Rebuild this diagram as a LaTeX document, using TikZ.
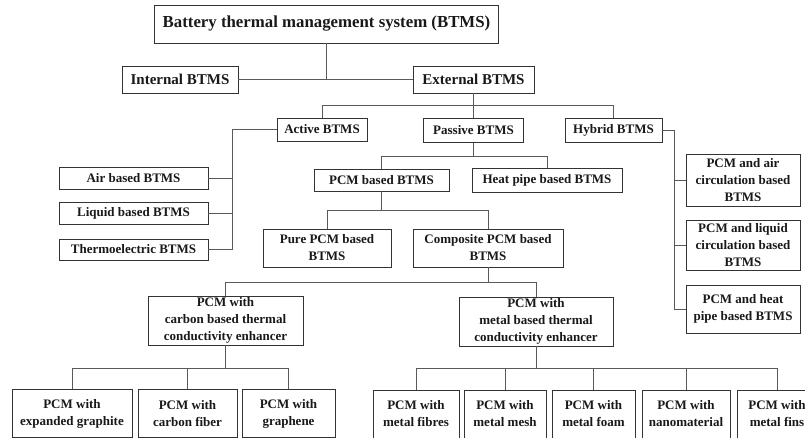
\documentclass[tikz,border=0pt]{standalone}
\usepackage{fontspec}
\setmainfont{Liberation Serif}
\begin{document}
\begin{tikzpicture}[x=1pt,y=-1pt,
  box/.style={draw=black!80, line width=0.9pt, fill=white, inner sep=0pt, align=center, text=black!90},
  ftop/.style={font=\fontsize{16.8}{18}\selectfont\bfseries},
  fsec/.style={font=\fontsize{15}{16}\selectfont\bfseries},
  fnorm/.style={font=\fontsize{13}{17}\selectfont\bfseries},
  link/.style={draw=black!65, line width=0.9pt}]
\useasboundingbox (0,0) rectangle (805,438);
\clip (0,0) rectangle (805,438);
\fill[white] (0,0) rectangle (805,438);
% junction rows / columns
\coordinate (r1) at (0,105);
\coordinate (r2) at (0,156);
\coordinate (r3) at (0,210);
\coordinate (r4) at (0,282);
\coordinate (r5) at (0,368);
\coordinate (cA) at (232,0);
\coordinate (cH) at (674,0);
% nodes
\node[box, ftop, minimum width=344, minimum height=38] (top) at (326.5,24) {Battery thermal management system (BTMS)};
\node[box, fsec, minimum width=116, minimum height=27] (internal) at (180,79.5) {Internal BTMS};
\node[box, fsec, minimum width=121, minimum height=27] (external) at (473.5,79.5) {External BTMS};
\node[box, fnorm, minimum width=90, minimum height=23] (active) at (322,129.5) {Active BTMS};
\node[box, fnorm, minimum width=100, minimum height=24] (passive) at (473.5,130.5) {Passive BTMS};
\node[box, fnorm, minimum width=97, minimum height=24] (hybrid) at (613.5,130) {Hybrid BTMS};
\node[box, fnorm, minimum width=149, minimum height=22] (air) at (133.5,178) {Air based BTMS};
\node[box, fnorm, minimum width=149, minimum height=22] (liquid) at (133.5,213) {Liquid based BTMS};
\node[box, fnorm, minimum width=149, minimum height=21] (thermo) at (133.5,249.5) {Thermoelectric BTMS};
\node[box, fnorm, minimum width=135, minimum height=22] (pcm) at (381.5,180) {PCM based BTMS};
\node[box, fnorm, minimum width=150, minimum height=24] (heatpipe) at (547,180) {Heat pipe based BTMS};
\node[box, fnorm, minimum width=128, minimum height=38] (pure) at (327,248) {Pure PCM based\\BTMS};
\node[box, fnorm, minimum width=150, minimum height=38] (composite) at (488,248) {Composite PCM based\\BTMS};
\node[box, fnorm, minimum width=155, minimum height=49] (carbon) at (225.5,320.5) {PCM with\\carbon based thermal\\conductivity enhancer};
\node[box, fnorm, minimum width=154, minimum height=49] (metal) at (536,321.5) {PCM with\\metal based thermal\\conductivity enhancer};
\node[box, fnorm, minimum width=114, minimum height=52] (pcmair) at (743,180) {PCM and air\\circulation based\\BTMS};
\node[box, fnorm, minimum width=114, minimum height=50] (pcmliquid) at (743,245) {PCM and liquid\\circulation based\\BTMS};
\node[box, fnorm, minimum width=114, minimum height=48] (pcmheat) at (743,309) {PCM and heat\\pipe based BTMS};
\node[box, fnorm, minimum width=120, minimum height=48] (expanded) at (72,413.5) {PCM with\\expanded graphite};
\node[box, fnorm, minimum width=99, minimum height=48] (fiber) at (187.5,413.5) {PCM with\\carbon fiber};
\node[box, fnorm, minimum width=93, minimum height=48] (graphene) at (288.5,413.5) {PCM with\\graphene};
\node[box, fnorm, minimum width=86, minimum height=48] (fibres) at (416,414) {PCM with\\metal fibres};
\node[box, fnorm, minimum width=82, minimum height=48] (mesh) at (505,414) {PCM with\\metal mesh};
\node[box, fnorm, minimum width=83, minimum height=48] (foam) at (593.5,414) {PCM with\\metal foam};
\node[box, fnorm, minimum width=88, minimum height=48] (nano) at (686,414) {PCM with\\nanomaterial};
\node[box, fnorm, minimum width=80, minimum height=48] (fins) at (777,414) {PCM with\\metal fins};
% connectors
\draw[link] (top.south) -- (top.south |- internal.east);
\draw[link] (internal.east) -- (external.west);
\draw[link] (external.south) -- (passive.north);
\draw[link] (active.north) -- (active.north |- r1) -- (hybrid.north |- r1) -- (hybrid.north);
\draw[link] (active.west) -- (active.west -| cA) -- (thermo.east -| cA) -- (thermo.east);
\draw[link] (air.east) -- (air.east -| cA);
\draw[link] (liquid.east) -- (liquid.east -| cA);
\draw[link] (hybrid.east) -- (hybrid.east -| cH) -- (pcmheat.west -| cH) -- (pcmheat.west);
\draw[link] (pcmair.west) -- (pcmair.west -| cH);
\draw[link] (pcmliquid.west) -- (pcmliquid.west -| cH);
\draw[link] (passive.south) -- (passive.south |- r2);
\draw[link] (pcm.north) -- (pcm.north |- r2) -- (heatpipe.north |- r2) -- (heatpipe.north);
\draw[link] (pcm.south) -- (pcm.south |- r3);
\draw[link] (pure.north) -- (pure.north |- r3) -- (composite.north |- r3) -- (composite.north);
\draw[link] (composite.south) -- (composite.south |- r4);
\draw[link] (carbon.north) -- (carbon.north |- r4) -- (metal.north |- r4) -- (metal.north);
\draw[link] (carbon.south) -- (carbon.south |- r5);
\draw[link] (expanded.north) -- (expanded.north |- r5) -- (graphene.north |- r5) -- (graphene.north);
\draw[link] (fiber.north) -- (fiber.north |- r5);
\draw[link] (metal.south) -- (metal.south |- r5);
\draw[link] (fibres.north) -- (fibres.north |- r5) -- (fins.north |- r5) -- (fins.north);
\draw[link] (mesh.north) -- (mesh.north |- r5);
\draw[link] (foam.north) -- (foam.north |- r5);
\draw[link] (nano.north) -- (nano.north |- r5);
\end{tikzpicture}
\end{document}
